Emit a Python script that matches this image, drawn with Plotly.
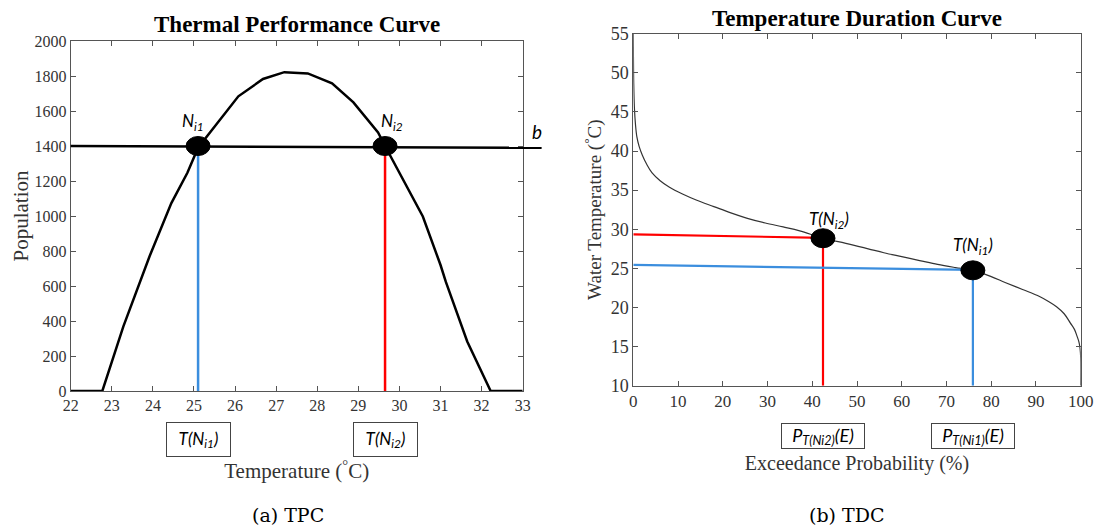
import plotly.graph_objects as go

# ---------------- data ----------------
# Thermal Performance Curve (TPC)
tpc_temp = [22.0, 22.77, 23.28, 23.92, 24.45, 24.84, 25.1, 25.58, 26.08, 26.68, 27.2, 27.77,
            28.36, 28.88, 29.48, 29.65, 30.0, 30.57, 31.0, 31.13, 31.65, 32.22, 33.0]
tpc_pop = [0, 0, 368, 770, 1074, 1247, 1390, 1534, 1684, 1783, 1822, 1815,
           1758, 1649, 1477, 1400, 1250, 997, 720, 623, 283, 0, 0]
b_level = [1400, 1390]          # horizontal line b (left end, right end)
b_temp = [22.0, 33.46]
n_temps = [25.1, 29.65]         # T(N_i1), T(N_i2)

# Temperature Duration Curve (TDC)
tdc_prob = [0, 0.1, 0.25, 0.5, 0.8, 1.3, 2.0, 3.0, 4.2, 6.0, 8.0, 11.0, 14.2, 18, 21.8, 25.5,
            29.5, 33.5, 37.2, 42.4, 47.5, 52.5, 56, 60, 64, 68, 72, 75.9, 80, 83.1, 87, 90.8,
            93, 94.6, 96.3, 97.7, 98.6, 99.2, 99.6, 99.85, 100, 100]
tdc_temp = [55, 48.5, 45.5, 43.3, 41.8, 40.6, 39.5, 38.3, 37.2, 36.2, 35.4, 34.5, 33.7, 32.9, 32.1, 31.4,
            30.8, 30.3, 29.8, 28.85, 28.2, 27.5, 27.0, 26.5, 26.0, 25.5, 25.1, 24.75, 23.95, 23.2, 22.3, 21.4,
            20.7, 20.1, 19.2, 18.0, 17.2, 16.3, 15.6, 14.8, 13.5, 10]
red_prob = [0, 42.4, 42.4]
red_temp = [29.35, 28.9, 10]
blue_prob = [0, 75.9, 75.9]
blue_temp = [25.45, 24.8, 10]
dot_prob = [42.4, 75.9]
dot_temp = [28.85, 24.75]

tpc_xticks = list(range(22, 34))
tpc_yticks = list(range(0, 2001, 200))
tdc_xticks = list(range(0, 101, 10))
tdc_yticks = list(range(10, 56, 5))

BLUE = "#3b8ede"
RED = "#ff0000"
SERIF = "Liberation Serif"
CAPTION = "DejaVu Serif"
SANS = "Lato"

W, H = 1097, 526


def px(x):
    return x / W


def py(y):
    return 1 - y / H


fig = go.Figure()

# TPC
fig.add_trace(go.Scatter(x=tpc_temp, y=tpc_pop, mode="lines", line=dict(color="black", width=2.5),
                         xaxis="x", yaxis="y", showlegend=False, hoverinfo="skip"))
fig.add_trace(go.Scatter(x=[n_temps[0], n_temps[0]], y=[b_level[0], 0], mode="lines",
                         line=dict(color=BLUE, width=2.5), xaxis="x", yaxis="y", showlegend=False))
fig.add_trace(go.Scatter(x=[n_temps[1], n_temps[1]], y=[b_level[0], 0], mode="lines",
                         line=dict(color=RED, width=2.5), xaxis="x", yaxis="y", showlegend=False))

# TDC
fig.add_trace(go.Scatter(x=tdc_prob, y=tdc_temp, mode="lines", line=dict(color="#333333", width=1.2),
                         line_shape="spline", xaxis="x2", yaxis="y2", showlegend=False, hoverinfo="skip"))
fig.add_trace(go.Scatter(x=red_prob, y=red_temp, mode="lines", line=dict(color=RED, width=2.2),
                         xaxis="x2", yaxis="y2", showlegend=False))
fig.add_trace(go.Scatter(x=blue_prob, y=blue_temp, mode="lines", line=dict(color=BLUE, width=2.2),
                         xaxis="x2", yaxis="y2", showlegend=False))

tpc_xr = [22, 33]
tpc_yr = [0, 2000]

shapes = []
# b line (extends beyond the right axis)
shapes.append(dict(type="line", xref="x domain", yref="y domain",
                   x0=(b_temp[0] - tpc_xr[0]) / (tpc_xr[1] - tpc_xr[0]),
                   x1=(b_temp[1] - tpc_xr[0]) / (tpc_xr[1] - tpc_xr[0]),
                   y0=(b_level[0] - tpc_yr[0]) / (tpc_yr[1] - tpc_yr[0]),
                   y1=(b_level[1] - tpc_yr[0]) / (tpc_yr[1] - tpc_yr[0]),
                   line=dict(color="black", width=2.5)))
for t in n_temps:
    shapes.append(dict(type="circle", xref="x", yref="y", xsizemode="pixel", ysizemode="pixel",
                       xanchor=t, yanchor=b_level[0], x0=-12, x1=12, y0=-9.5, y1=9.5,
                       fillcolor="black", line=dict(color="black", width=1)))
for p, t in zip(dot_prob, dot_temp):
    shapes.append(dict(type="circle", xref="x2", yref="y2", xsizemode="pixel", ysizemode="pixel",
                       xanchor=p, yanchor=t, x0=-12, x1=12, y0=-9.5, y1=9.5,
                       fillcolor="black", line=dict(color="black", width=1)))

ann = []


def add_ann(**kw):
    kw.setdefault("showarrow", False)
    kw.setdefault("xanchor", "center")
    kw.setdefault("yanchor", "middle")
    ann.append(kw)


lab_font = dict(family=SANS, size=17, color="black")
# N labels
add_ann(x=n_temps[0], y=b_level[0], xref="x", yref="y", text="<i>N<sub>i1</sub></i>",
        xshift=-5, yshift=24, font=lab_font)
add_ann(x=n_temps[1], y=b_level[0], xref="x", yref="y", text="<i>N<sub>i2</sub></i>",
        xshift=7, yshift=24, font=lab_font)
add_ann(x=(33.35 - tpc_xr[0]) / (tpc_xr[1] - tpc_xr[0]), y=b_level[0], xref="x domain", yref="y",
        text="<i>b</i>", yshift=15, font=dict(family=SANS, size=19, color="black"))
# TDC labels
add_ann(x=dot_prob[0], y=dot_temp[0], xref="x2", yref="y2", text="<i>T(N<sub>i2</sub>)</i>",
        xshift=6, yshift=18, font=lab_font)
add_ann(x=dot_prob[1], y=dot_temp[1], xref="x2", yref="y2", text="<i>T(N<sub>i1</sub>)</i>",
        xshift=0, yshift=24, font=lab_font)
# boxes
box_font = dict(family=SANS, size=17, color="black")
add_ann(x=n_temps[0], y=0, xref="x", yref="y domain", text="<i>T(N<sub>i1</sub>)</i>",
        yshift=-48, width=61, height=31, borderpad=1,
        bordercolor="#444", borderwidth=1, bgcolor="white", font=box_font)
add_ann(x=n_temps[1], y=0, xref="x", yref="y domain", text="<i>T(N<sub>i2</sub>)</i>",
        yshift=-48, width=61, height=31, borderpad=1,
        bordercolor="#444", borderwidth=1, bgcolor="white", font=box_font)
add_ann(x=red_prob[1], y=0, xref="x2", yref="y2 domain", text="<i>P<sub>T(Ni2)</sub>(E)</i>",
        yshift=-50, width=80, height=22, borderpad=1,
        bordercolor="#444", borderwidth=1, bgcolor="white", font=dict(family=SANS, size=18, color="black"))
add_ann(x=blue_prob[1], y=0, xref="x2", yref="y2 domain", text="<i>P<sub>T(Ni1)</sub>(E)</i>",
        yshift=-50, width=80, height=22, borderpad=1,
        bordercolor="#444", borderwidth=1, bgcolor="white", font=dict(family=SANS, size=18, color="black"))
# titles
add_ann(x=0.5, y=1, xref="x domain", yref="y domain", text="<b>Thermal Performance Curve</b>",
        yshift=17, font=dict(family=SERIF, size=23, color="black"))
add_ann(x=0.5, y=1, xref="x2 domain", yref="y2 domain", text="<b>Temperature Duration Curve</b>",
        yshift=15, font=dict(family=SERIF, size=23, color="black"))
# captions
add_ann(x=px(288), y=py(515), xref="paper", yref="paper", text="(a) TPC",
        font=dict(family=CAPTION, size=19, color="black"))
add_ann(x=px(846), y=py(515), xref="paper", yref="paper", text="(b) TDC",
        font=dict(family=CAPTION, size=19, color="black"))

axis_common = dict(showline=True, linecolor="#555", linewidth=1, mirror="ticks", ticks="inside",
                   ticklen=5, tickcolor="#555", showgrid=False, zeroline=False, automargin=False)

fig.update_layout(
    width=W, height=H,
    margin=dict(l=0, r=0, t=0, b=0, autoexpand=False),
    paper_bgcolor="white", plot_bgcolor="white",
    showlegend=False,
    xaxis=dict(domain=[px(70.7), px(522.7)], range=tpc_xr, tickvals=tpc_xticks, anchor="y",
               tickfont=dict(family=SERIF, size=16, color="#333"),
               title=dict(text="Temperature (<sup>°</sup>C)", standoff=50,
                          font=dict(family=SERIF, size=21, color="#333")), **axis_common),
    yaxis=dict(domain=[py(391), py(41)], range=tpc_yr, tickvals=tpc_yticks, anchor="x",
               tickfont=dict(family=SERIF, size=16, color="#333"),
               title=dict(text="Population", standoff=0,
                          font=dict(family=SERIF, size=21, color="#333")), **axis_common),
    xaxis2=dict(domain=[px(633.3), px(1080.7)], range=[0, 100], tickvals=tdc_xticks, anchor="y2",
                tickfont=dict(family=SERIF, size=17, color="#333"),
                title=dict(text="Exceedance Probability (%)", standoff=45,
                           font=dict(family=SERIF, size=20, color="#333")), **axis_common),
    yaxis2=dict(domain=[py(385.7), py(33.7)], range=[10, 55], tickvals=tdc_yticks, anchor="x2",
                tickfont=dict(family=SERIF, size=18, color="#333"),
                title=dict(text="Water Temperature (<sup>°</sup>C)", standoff=4,
                           font=dict(family=SERIF, size=19, color="#333")), **axis_common),
    shapes=shapes,
    annotations=ann,
)

fig.write_html("out.html",
               config={"displayModeBar": False},
               post_script="document.body.style.margin='0';document.body.style.overflow='hidden';")
